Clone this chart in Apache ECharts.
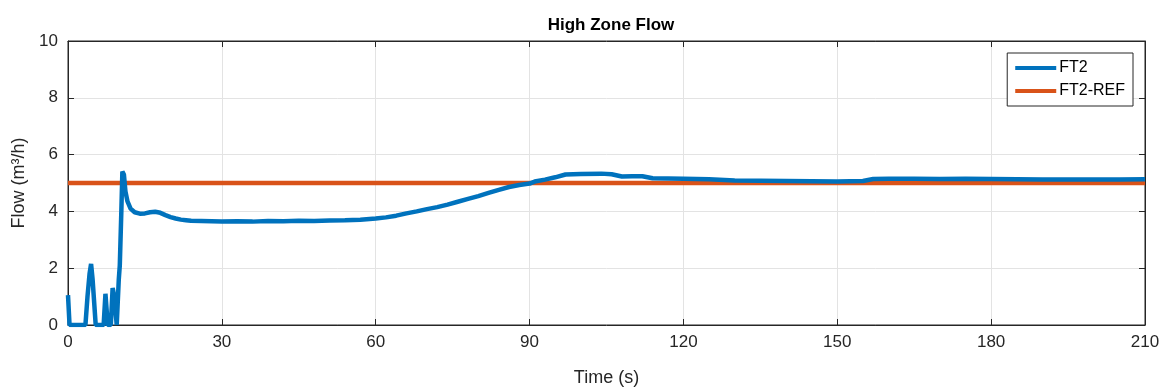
<!DOCTYPE html>
<html>
<head>
<meta charset="utf-8">
<script src="https://cdn.jsdelivr.net/npm/echarts@6/dist/echarts.min.js"></script>
<style>
  html, body { margin: 0; padding: 0; background: #fff; }
  #main { width: 1169px; height: 390px; }
</style>
</head>
<body>
<div id="main"></div>
<script>
// values
const timeS = [
  0, 0.15, 0.3, 3.4, 3.8, 4.2, 4.5, 4.8, 5.4, 6.95, 7.3, 7.75, 8.35, 8.7, 9.0, 9.5, 9.6, 9.9, 10.1, 10.4,
  10.6, 10.9, 11.2, 11.6, 12.2, 13, 14, 15, 16, 17, 18, 19, 20, 21, 22, 23, 24, 26, 28, 30,
  33, 36, 39, 42, 45, 48, 51, 54, 57, 60, 62, 64, 66, 68, 70, 72, 74, 76, 78, 80,
  82, 84, 86, 88, 90, 91, 93, 95, 97, 100, 104, 106, 108, 110, 112, 114, 117, 120, 125, 130,
  135, 140, 145, 150, 155, 157, 160, 165, 170, 175, 180, 185, 190, 195, 200, 205, 210
];
const flowFT2 = [
  1.05, 1.05, 0, 0, 1.0, 1.8, 2.15, 1.6, 0, 0, 1.1, 0, 0, 1.3, 1.05, 0, 0, 1.6, 2.1, 4.0,
  5.4, 5.3, 4.7, 4.35, 4.1, 3.97, 3.92, 3.93, 3.97, 3.99, 3.95, 3.87, 3.80, 3.75, 3.71, 3.69, 3.67, 3.66, 3.65, 3.64,
  3.65, 3.64, 3.66, 3.65, 3.67, 3.66, 3.68, 3.69, 3.71, 3.75, 3.79, 3.85, 3.93, 4.0, 4.08, 4.15, 4.24, 4.34, 4.44, 4.54,
  4.65, 4.76, 4.86, 4.93, 4.98, 5.05, 5.12, 5.2, 5.3, 5.32, 5.33, 5.31, 5.23, 5.24, 5.24, 5.17, 5.16, 5.15, 5.13, 5.09,
  5.08, 5.07, 5.06, 5.05, 5.07, 5.14, 5.15, 5.15, 5.14, 5.15, 5.14, 5.13, 5.12, 5.12, 5.12, 5.12, 5.13
];
const refFlow = 5;
const xTicks = [0, 30, 60, 90, 120, 150, 180, 210];
const yTicks = [0, 2, 4, 6, 8, 10];

const ft2Data = timeS.map((t, i) => [t, flowFT2[i]]);
const refData = [[xTicks[0], refFlow], [xTicks[xTicks.length - 1], refFlow]];

const font = 'Liberation Sans, Arial, Helvetica, sans-serif';
const axisCol = '#262626';

let myChart = echarts.init(document.getElementById('main'));
myChart.setOption({
    animation: false,
    backgroundColor: '#fff',
    title: {
        text: 'High Zone Flow',
        left: 606,
        top: 12,
        textAlign: 'center',
        textStyle: { fontFamily: font, fontSize: 17, fontWeight: 'bold', color: '#000' }
    },
    legend: {
        orient: 'vertical',
        right: 36,
        top: 53,
        padding: [7, 8, 7, 8],
        itemGap: 7,
        itemWidth: 41,
        itemHeight: 4,
        icon: 'rect',
        borderColor: axisCol,
        borderWidth: 1,
        backgroundColor: '#fff',
        textStyle: { fontFamily: font, fontSize: 16, color: '#000', padding: [0, 0, 0, -2] },
        data: ['FT2', 'FT2-REF']
    },
    grid: {
        left: 68, right: 24, top: 41, bottom: 65,
        outerBoundsMode: 'none',
        show: true, borderColor: axisCol, borderWidth: 1
    },
    xAxis: [{
        type: 'value',
        min: 0, max: 210, interval: 30,
        name: 'Time (s)',
        nameLocation: 'middle',
        nameGap: 44,
        nameTextStyle: { fontFamily: font, fontSize: 18, color: '#262626' },
        axisLine: { show: true, onZero: false, lineStyle: { color: axisCol } },
        axisTick: { inside: true, length: 6, lineStyle: { color: axisCol } },
        axisLabel: { fontFamily: font, fontSize: 17, color: '#262626', margin: 9 },
        splitLine: { show: true, lineStyle: { color: '#e3e3e3' } }
    }, {
        type: 'value', position: 'top',
        min: 0, max: 210, interval: 30,
        axisLine: { show: true, onZero: false, lineStyle: { color: axisCol } },
        axisTick: { inside: true, length: 6, lineStyle: { color: axisCol } },
        axisLabel: { show: false },
        splitLine: { show: false }
    }],
    yAxis: [{
        type: 'value',
        min: 0, max: 10, interval: 2,
        name: 'Flow (m³/h)',
        nameLocation: 'middle',
        nameGap: 33,
        nameTextStyle: { fontFamily: font, fontSize: 18, color: '#262626' },
        axisLine: { show: true, onZero: false, lineStyle: { color: axisCol } },
        axisTick: { show: true, inside: true, length: 6, lineStyle: { color: axisCol } },
        axisLabel: { fontFamily: font, fontSize: 17, color: '#262626', margin: 10 },
        splitLine: { show: true, lineStyle: { color: '#e3e3e3' } }
    }, {
        type: 'value', position: 'right',
        min: 0, max: 10, interval: 2,
        axisLine: { show: true, onZero: false, lineStyle: { color: axisCol } },
        axisTick: { show: true, inside: true, length: 6, lineStyle: { color: axisCol } },
        axisLabel: { show: false },
        splitLine: { show: false }
    }],
    series: [{
        name: 'FT2',
        type: 'line',
        data: ft2Data,
        symbol: 'none',
        color: '#0072BD',
        lineStyle: { width: 4.5, color: '#0072BD' },
        z: 3
    }, {
        name: 'FT2-REF',
        type: 'line',
        data: refData,
        symbol: 'none',
        color: '#D95319',
        lineStyle: { width: 4.5, color: '#D95319' },
        z: 2
    }]
});
</script>
</body>
</html>
